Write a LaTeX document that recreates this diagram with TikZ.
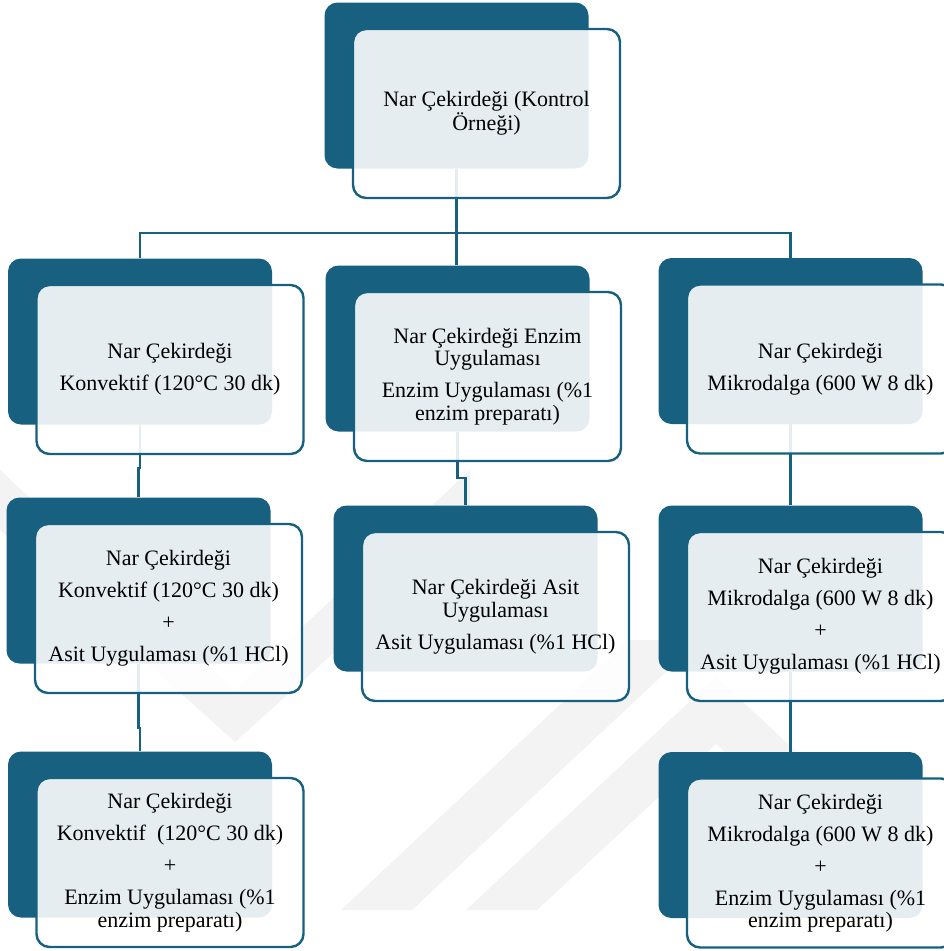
\documentclass[tikz,border=0pt]{standalone}
\usepackage{fontspec}
\setmainfont{Liberation Serif}
\usetikzlibrary{calc}
\definecolor{darkteal}{RGB}{23,96,128}
\definecolor{wm}{RGB}{243,243,243}
\begin{document}
\begin{tikzpicture}[x=1pt,y=-1pt,
  darkbox/.style={draw=none,fill=darkteal,rounded corners=13pt,minimum width=264pt,minimum height=166pt,inner sep=0pt},
  lightbox/.style={draw=darkteal,line width=2.4pt,fill=white,fill opacity=0.89,text opacity=1,rounded corners=13pt,minimum width=267pt,minimum height=169pt,inner sep=0pt,align=center,font=\fontsize{22}{22.5}\selectfont,text=black},
  link/.style={draw=darkteal,line width=2.4pt}]
\useasboundingbox (0,0) rectangle (944,951);
\clip (0,0) rectangle (944,951);
% watermark
\fill[wm] (0,470) -- (235,690) -- (470,470) -- (470,530) -- (235,742) -- (0,530) -- cycle;
\fill[wm] (341,910) -- (412,910) -- (700,640) -- (629,640) -- cycle;
\fill[wm] (466,910) -- (537,910) -- (716,744) -- (850,869) -- (900,848) -- (716,677) -- cycle;
% dark boxes
\node[darkbox] (d0)  at (456.5,85.5) {};
\node[darkbox] (dL1) at (140,341.5) {};
\node[darkbox] (dM1) at (457.5,348.5) {};
\node[darkbox] (dR1) at (790.5,341) {};
\node[darkbox] (dL2) at (138.5,580.5) {};
\node[darkbox] (dM2) at (465.5,588.5) {};
\node[darkbox] (dR2) at (790.5,588.5) {};
\node[darkbox] (dL3) at (140,834.5) {};
\node[darkbox] (dR3) at (790.5,835) {};
% connectors
\coordinate (bus) at (0,233);
\draw[link] (d0.south) -- (d0.south |- dM1.north);
\draw[link] (dL1.north) -- (dL1.north |- bus) -- (dR1.north |- bus) -- (dR1.north);
\draw[link] (dL1.south) -- ++(0,43) -| (dL2.north);
\draw[link] (dL2.south) -- ++(0,64) -| (dL3.north);
\draw[link] (dM1.south) -- ++(0,46) -| (dM2.north);
\draw[link] (dR1.south) -- (dR1.south |- dR2.north);
\draw[link] (dR2.south) -- (dR2.south |- dR3.north);
% light boxes with text
\node[lightbox] (l0) at ($(d0.center)+(30,28)$) {Nar Çekirdeği (Kontrol\\Örneği)};
\node[lightbox] (lL1) at ($(dL1.center)+(30,28)$) {Nar Çekirdeği\\[9.5pt]Konvektif (120°C 30 dk)};
\node[lightbox] (lM1) at ($(dM1.center)+(30,28)$) {Nar Çekirdeği Enzim\\Uygulaması\\[9.5pt]Enzim Uygulaması (\%1\\enzim preparatı)};
\node[lightbox] (lR1) at ($(dR1.center)+(30,28)$) {Nar Çekirdeği\\[9.5pt]Mikrodalga (600 W 8 dk)};
\node[lightbox] (lL2) at ($(dL2.center)+(30,28)$) {Nar Çekirdeği\\[9.5pt]Konvektif (120°C 30 dk)\\[9.5pt]+\\[9.5pt]Asit Uygulaması (\%1 HCl)};
\node[lightbox] (lM2) at ($(dM2.center)+(30,28)$) {Nar Çekirdeği Asit\\Uygulaması\\[9.5pt]Asit Uygulaması (\%1 HCl)};
\node[lightbox] (lR2) at ($(dR2.center)+(30,28)$) {Nar Çekirdeği\\[9.5pt]Mikrodalga (600 W 8 dk)\\[9.5pt]+\\[9.5pt]Asit Uygulaması (\%1 HCl)};
\node[lightbox] (lL3) at ($(dL3.center)+(30,28)$) {Nar Çekirdeği\\[9.5pt]Konvektif~~(120°C 30 dk)\\[9.5pt]+\\[9.5pt]Enzim Uygulaması (\%1\\enzim preparatı)};
\node[lightbox] (lR3) at ($(dR3.center)+(30,28)$) {Nar Çekirdeği\\[9.5pt]Mikrodalga (600 W 8 dk)\\[9.5pt]+\\[9.5pt]Enzim Uygulaması (\%1\\enzim preparatı)};
\end{tikzpicture}
\end{document}
